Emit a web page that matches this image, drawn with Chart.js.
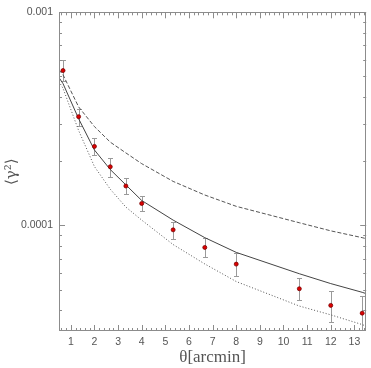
<!DOCTYPE html>
<html>
<head>
<meta charset="utf-8">
<script src="https://cdn.jsdelivr.net/npm/chart.js@4.4.1/dist/chart.umd.min.js"></script>
<style>
  html, body { margin: 0; padding: 0; background: #fff; }
  #wrap { width: 371px; height: 368px; }
</style>
</head>
<body>
<div id="wrap"><canvas id="chart" width="371" height="368"></canvas></div>
<script>
// model curves (theta in arcmin)
const modelX = [0.5, 0.67, 1.33, 2, 2.67, 3.33, 4, 5.33, 6.67, 8, 10.67, 12, 13.33, 13.5];
const dashedY = [5.37e-4, 5.09e-4, 3.60e-4, 2.91e-4, 2.46e-4, 2.19e-4, 1.95e-4, 1.61e-4, 1.39e-4, 1.23e-4, 1.03e-4, 9.44e-5, 8.77e-5, 8.67e-5];
const solidY = [4.94e-4, 4.63e-4, 3.17e-4, 2.26e-4, 1.83e-4, 1.55e-4, 1.31e-4, 1.06e-4, 8.77e-5, 7.48e-5, 5.94e-5, 5.34e-5, 4.86e-5, 4.79e-5];
const dottedY = [4.73e-4, 4.40e-4, 2.79e-4, 1.89e-4, 1.48e-4, 1.22e-4, 1.06e-4, 8.14e-5, 6.60e-5, 5.46e-5, 4.19e-5, 3.81e-5, 3.43e-5, 3.37e-5];

// measurements with error bars
const obsX = [0.67, 1.33, 2, 2.67, 3.33, 4, 5.33, 6.67, 8, 10.67, 12, 13.33];
const obsY = [5.33e-4, 3.24e-4, 2.35e-4, 1.886e-4, 1.532e-4, 1.268e-4, 9.54e-5, 7.89e-5, 6.59e-5, 5.05e-5, 4.22e-5, 3.88e-5];
const obsHi = [5.98e-4, 3.535e-4, 2.56e-4, 2.074e-4, 1.667e-4, 1.375e-4, 1.038e-4, 8.74e-5, 7.43e-5, 5.67e-5, 4.91e-5, 4.66e-5];
const obsLo = [4.75e-4, 2.923e-4, 2.147e-4, 1.697e-4, 1.408e-4, 1.169e-4, 8.67e-5, 7.08e-5, 5.79e-5, 4.47e-5, 3.53e-5, 3.22e-5];

const xTicks = [1, 2, 3, 4, 5, 6, 7, 8, 9, 10, 11, 12, 13];
const yTicks = [0.0001, 0.001];
const yTickLabels = ["0.0001", "0.001"];

const pts = (xs, ys) => xs.map((x, i) => ({ x, y: ys[i] }));

// error bars under the points
const errorBars = {
  id: "errorBars",
  beforeDatasetsDraw(chart) {
    const { ctx, chartArea: a, scales: { x, y } } = chart;
    ctx.save();
    ctx.beginPath();
    ctx.rect(a.left, a.top, a.right - a.left, a.bottom - a.top);
    ctx.clip();
    ctx.strokeStyle = "#9a9a9a";
    ctx.lineWidth = 1;
    ctx.beginPath();
    obsX.forEach((v, i) => {
      const px = Math.round(x.getPixelForValue(v)) + 0.5;
      const top = Math.round(y.getPixelForValue(obsHi[i])) + 0.5;
      const bot = Math.round(y.getPixelForValue(obsLo[i])) + 0.5;
      ctx.moveTo(px, top); ctx.lineTo(px, bot);
      ctx.moveTo(px - 2.5, top); ctx.lineTo(px + 2.5, top);
      ctx.moveTo(px - 2.5, bot); ctx.lineTo(px + 2.5, bot);
    });
    ctx.stroke();
    ctx.restore();
  }
};

// box with inward ticks on all four sides
const frame = {
  id: "frame",
  afterDatasetsDraw(chart) {
    const { ctx, chartArea: a, scales: { x, y } } = chart;
    ctx.save();
    ctx.strokeStyle = "#8c8c8c";
    ctx.lineWidth = 1;
    ctx.strokeRect(Math.round(a.left) + 0.5, Math.round(a.top) + 0.5,
      Math.round(a.right - a.left) - 1, Math.round(a.bottom - a.top) - 1);
    ctx.beginPath();
    for (let i = Math.ceil(x.min * 5); i <= Math.floor(x.max * 5); i++) {
      const px = Math.round(x.getPixelForValue(i / 5)) + 0.5;
      const len = i % 5 === 0 ? 6 : 3;
      ctx.moveTo(px, a.bottom); ctx.lineTo(px, a.bottom - len);
      ctx.moveTo(px, a.top); ctx.lineTo(px, a.top + len);
    }
    for (let e = -6; e <= -2; e++) {
      for (let m = 1; m <= 9; m++) {
        const v = m * Math.pow(10, e);
        if (v < y.min || v > y.max) continue;
        const py = Math.round(y.getPixelForValue(v)) + 0.5;
        const len = m === 1 ? 6 : 3;
        ctx.moveTo(a.left, py); ctx.lineTo(a.left + len, py);
        ctx.moveTo(a.right, py); ctx.lineTo(a.right - len, py);
      }
    }
    ctx.stroke();
    ctx.restore();
  }
};

new Chart(document.getElementById("chart"), {
  type: "scatter",
  data: {
    datasets: [
      {
        data: pts(obsX, obsY),
        pointRadius: 2,
        pointBackgroundColor: "#dd0000",
        pointBorderColor: "#7a0000",
        pointBorderWidth: 0.8,
        order: 0
      },
      {
        data: pts(modelX, dashedY),
        showLine: true, pointRadius: 0,
        borderColor: "#555", borderWidth: 1, borderDash: [4, 2],
        order: 1
      },
      {
        data: pts(modelX, solidY),
        showLine: true, pointRadius: 0,
        borderColor: "#444", borderWidth: 1,
        order: 1
      },
      {
        data: pts(modelX, dottedY),
        showLine: true, pointRadius: 0,
        borderColor: "#555", borderWidth: 1, borderDash: [1, 2],
        order: 1
      }
    ]
  },
  options: {
    responsive: false,
    animation: false,
    devicePixelRatio: 1,
    layout: { padding: { top: 4, right: 3, left: 0, bottom: 0 } },
    plugins: { legend: { display: false }, tooltip: { enabled: false } },
    scales: {
      x: {
        type: "linear",
        min: 0.5,
        max: 13.5,
        afterFit: s => { s.height = 37; },
        afterBuildTicks: s => { s.ticks = xTicks.map(v => ({ value: v })); },
        grid: { display: false, drawTicks: false },
        border: { display: false },
        ticks: {
          autoSkip: false, maxRotation: 0,
          padding: 5, color: "#555",
          font: { family: "Liberation Sans", size: 10.5 },
          callback: (v, i) => String(xTicks[i])
        },
        title: {
          display: true, text: "θ[arcmin]", color: "#555", padding: 0,
          font: { family: "Liberation Serif", size: 17 }
        }
      },
      y: {
        type: "logarithmic",
        min: 3.2e-5,
        max: 1e-3,
        afterFit: s => { s.width = 59; },
        afterBuildTicks: s => { s.ticks = yTicks.map(v => ({ value: v })); },
        grid: { display: false, drawTicks: false },
        border: { display: false },
        ticks: {
          autoSkip: false, padding: 6, color: "#555",
          font: { family: "Liberation Sans", size: 10.5 },
          callback: (v, i) => yTickLabels[i]
        },
        title: {
          display: true, text: "⟨γ²⟩", color: "#555", padding: { top: 3 },
          font: { family: "DejaVu Serif", size: 15 }
        }
      }
    }
  },
  plugins: [errorBars, frame]
});
</script>
</body>
</html>
